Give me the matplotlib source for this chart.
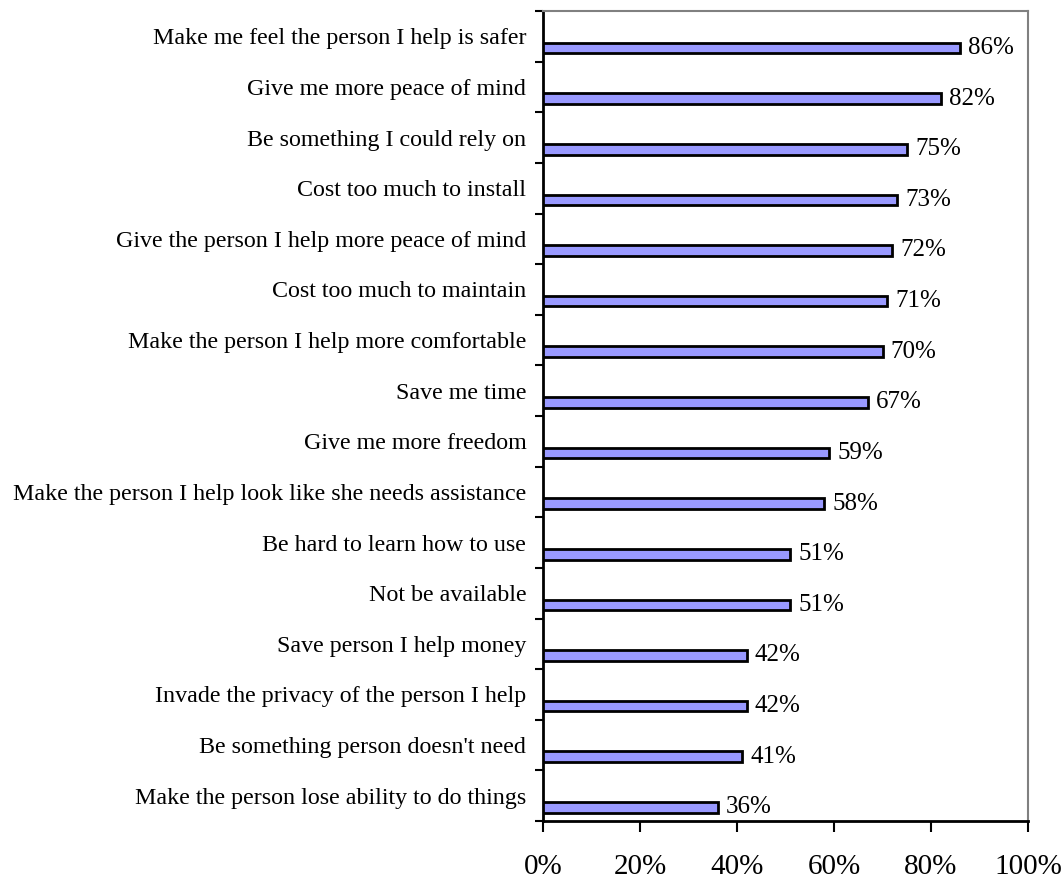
import matplotlib.pyplot as plt
import numpy as np

plt.rcParams["font.family"] = ["Liberation Serif", "DejaVu Serif"]

CATEGORIES = [
    "Make me feel the person I help is safer",
    "Give me more peace of mind",
    "Be something I could rely on",
    "Cost too much to install",
    "Give the person I help more peace of mind",
    "Cost too much to maintain",
    "Make the person I help more comfortable",
    "Save me time",
    "Give me more freedom",
    "Make the person I help look like she needs assistance",
    "Be hard to learn how to use",
    "Not be available",
    "Save person I help money",
    "Invade the privacy of the person I help",
    "Be something person doesn't need",
    "Make the person lose ability to do things",
]
VALUES = [86, 82, 75, 73, 72, 71, 70, 67, 59, 58, 51, 51, 42, 42, 41, 36]
X_TICKS = [0, 20, 40, 60, 80, 100]

fig = plt.figure(figsize=(10.64, 8.80), dpi=100)
ax = fig.add_axes([0.5103, 0.0670, 0.4559, 0.9205])

# bars sit in the lower half of each category band
pos = np.arange(len(CATEGORIES))
bar_y = pos + 0.23
ax.barh(bar_y, VALUES, height=0.21, color="#9999FF",
        edgecolor="black", linewidth=2, zorder=3)

for y, v in zip(bar_y, VALUES):
    ax.text(v + 1.7, y, f"{v}%", va="center", ha="left", fontsize=18)

ax.set_xlim(0, 100)
ax.set_ylim(len(CATEGORIES) - 0.5, -0.5)

ax.set_yticks(pos)
ax.set_yticklabels(CATEGORIES, fontsize=17.3)
ax.set_yticks(np.arange(len(CATEGORIES) + 1) - 0.5, minor=True)
ax.tick_params(axis="y", which="major", length=0, pad=12)
ax.tick_params(axis="y", which="minor", length=6, width=1.5, direction="out")

ax.set_xticks(X_TICKS)
ax.set_xticklabels([f"{t}%" for t in X_TICKS], fontsize=21)
ax.tick_params(axis="x", length=8, width=1.5, direction="out", pad=16)

ax.spines["left"].set_linewidth(2)
ax.spines["bottom"].set_linewidth(2)
for side in ("top", "right"):
    ax.spines[side].set_color("#808080")
    ax.spines[side].set_linewidth(1.5)

fig.savefig("out.png", dpi=100)
